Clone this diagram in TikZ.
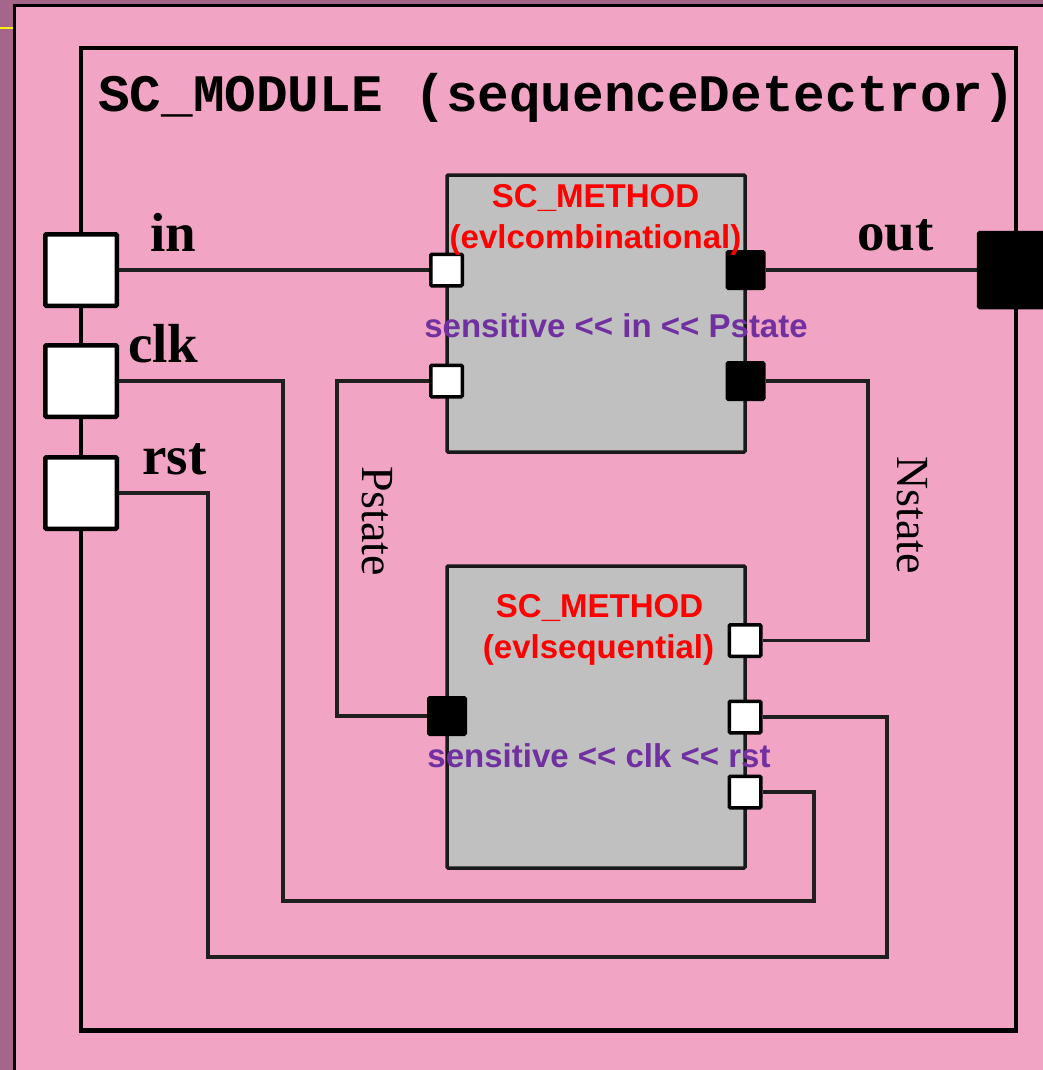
\documentclass[tikz,border=0pt]{standalone}
\usepackage{fontspec}
\setmainfont{Liberation Serif}
\setsansfont{Liberation Sans}
\setmonofont{Liberation Mono}
\definecolor{fondo}{RGB}{166,102,138}
\definecolor{rosa}{RGB}{241,164,196}
\definecolor{gris}{RGB}{192,192,192}
\definecolor{morado}{RGB}{112,48,160}
\definecolor{rojo}{RGB}{255,0,0}

\begin{document}
\begin{tikzpicture}[x=1pt, y=-1pt,  % unidades en pixeles, y hacia abajo
    cable/.style={draw=black!88, line width=3.5pt},
    metodo/.style={draw=black!90, line width=3.5pt, fill=gris, rounded corners=1pt, inner sep=0pt},
    puertoext/.style={draw=black, line width=4.5pt, fill=white, rounded corners=1pt, minimum size=71.5pt, inner sep=0pt},
    puertob/.style={draw=black, line width=3.5pt, fill=white, rounded corners=1pt, minimum size=31.5pt, inner sep=0pt},
    puerton/.style={draw=black, line width=3.5pt, fill=black, rounded corners=1pt, minimum size=36.5pt, inner sep=0pt},
    nombre/.style={anchor=base west, inner sep=0pt, font=\fontsize{55}{60}\selectfont\bfseries},
    titmetodo/.style={anchor=base, inner sep=0pt, text=rojo, font=\sffamily\fontsize{33}{36}\selectfont\bfseries},
    sensible/.style={anchor=base, inner sep=0pt, text=morado, font=\sffamily\fontsize{33}{36}\selectfont\bfseries},
    senal/.style={rotate=-90, inner sep=0pt, font=\fontsize{46}{50}\selectfont}]
  \useasboundingbox (0,0) rectangle (1043,1070);

  % Fondo de la ventana
  \fill[fondo] (0,0) rectangle (1043,1070);
  \draw[yellow, line width=2.5pt] (0,28) -- (13,28);
  \filldraw[fill=rosa, draw=black, line width=2.5pt] (14.5,5.5) rectangle (1060,1085);

  % Modulo
  \draw[black, line width=4.5pt] (81,48) rectangle (1016,1030.5);
  \node[anchor=base west, inner sep=0pt, font=\ttfamily\bfseries\fontsize{52.7}{56}\selectfont]
    (titulo) at (98,112) {SC\_MODULE (sequenceDetectror)};

  % Procesos
  \node[metodo, minimum width=298pt, minimum height=277pt] (comb) at (596,313.5) {};
  \node[metodo, minimum width=298pt, minimum height=302pt] (secu) at (596,717) {};

  % Puertos del modulo
  \foreach \pto/\yy in {pin/270,pclk/381,prst/493} {
    \node[puertoext] (\pto) at (81,\yy) {};
  }
  \node[puertoext, fill=black, minimum size=74pt] (pout) at (1016,270) {};

  % Puertos de los procesos
  \node[puertob] (cin) at (446.5,270) {};
  \node[puertob] (cps) at (446.5,381) {};
  \node[puerton] (cout) at (745.5,270) {};
  \node[puerton] (cns) at (745.5,381) {};
  \node[puerton] (sps) at (447,716) {};
  \node[puertob] (sns) at (745,640.5) {};
  \node[puertob] (srst) at (745,717) {};
  \node[puertob] (sclk) at (745,792) {};

  % Esquinas de los cables
  \coordinate (ns) at (868,640.5);
  \coordinate (ps) at (337,716);
  \coordinate (clkA) at (283,901);
  \coordinate (clkB) at (814,901);
  \coordinate (rstA) at (208,957);
  \coordinate (rstB) at (887,957);

  % Cables
  \draw[cable] (pin.east) -- (cin.west);
  \draw[cable] (cout.east) -- (pout.west);
  \draw[cable] (cns.east) -| (ns) -- (sns.east);
  \draw[cable] (cps.west) -| (ps) -- (sps.west);
  \draw[cable] (pclk.east) -| (clkA) -- (clkB) |- (sclk.east);
  \draw[cable] (prst.east) -| (rstA) -- (rstB) |- (srst.east);

  % Textos
  \node[nombre] (lin) at (150,251) {in};
  \node[nombre] (lclk) at (128,362) {clk};
  \node[nombre] (lrst) at (142,474) {rst};
  \node[nombre] (lout) at (857,250) {out};
  \node[senal] (lps) at (377,521) {Pstate};
  \node[senal] (lns) at (912,515) {Nstate};
  \node[titmetodo] (tcomb) at (595.5,207) {SC\_METHOD};
  \node[titmetodo] (ncomb) at (595.5,248) {(evlcombinational)};
  \node[sensible] (scomb) at (616,337) {sensitive <{}< in <{}< Pstate};
  \node[titmetodo] (tsecu) at (599.5,617) {SC\_METHOD};
  \node[titmetodo] (nsecu) at (598.5,658) {(evlsequential)};
  \node[sensible] (ssecu) at (599,767) {sensitive <{}< clk <{}< rst};
\end{tikzpicture}
\end{document}
